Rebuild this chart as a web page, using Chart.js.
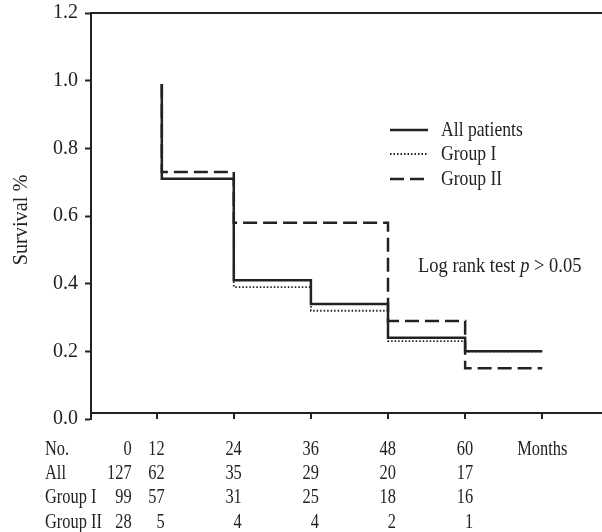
<!DOCTYPE html>
<html>
<head>
<meta charset="utf-8">
<script src="https://cdn.jsdelivr.net/npm/chart.js@4/dist/chart.umd.min.js"></script>
<style>
  html, body { margin: 0; padding: 0; background: #fff; }
  canvas { display: block; }
</style>
</head>
<body>
<canvas id="survivalChart" width="602" height="532"></canvas>
<script>
// Kaplan-Meier curves
const times = [12.8, 12.8, 24, 36, 48, 60, 72];
const allPatients = [0.99, 0.71, 0.41, 0.34, 0.24, 0.20, 0.20];
const groupI = [0.99, 0.71, 0.39, 0.32, 0.23, 0.20, 0.20];
const groupII = [0.99, 0.73, 0.58, 0.58, 0.29, 0.15, 0.15];

const seriesNames = ['All patients', 'Group I', 'Group II'];
const xTicks = [12, 24, 36, 48, 60, 72];

// numbers at risk table
const tableMonths = [0, 12, 24, 36, 48, 60];
const rowNames = ['All', 'Group I', 'Group II'];
const atRiskAll = [127, 62, 35, 29, 20, 17];
const atRiskGroupI = [99, 57, 31, 25, 18, 16];
const atRiskGroupII = [28, 5, 4, 4, 2, 1];

const INK = '#222';
const FONT = '"Liberation Serif", "Times New Roman", serif';
const SQUEEZE = 0.82;

function points(ys) {
    return times.map((t, i) => ({ x: t, y: ys[i] }));
}

// draw horizontally compressed text, like the scanned figure
function squeezed(ctx, str, x, y, size, align, sx) {
    ctx.save();
    ctx.font = size + 'px ' + FONT;
    ctx.fillStyle = INK;
    ctx.textAlign = align || 'left';
    ctx.textBaseline = 'middle';
    ctx.translate(x, y);
    ctx.scale(sx || SQUEEZE, 1);
    ctx.fillText(str, 0, 0);
    ctx.restore();
}

const extras = {
    id: 'extras',
    afterDraw(chart) {
        const ctx = chart.ctx;
        const xs = chart.scales.x;
        const ys = chart.scales.y;
        const area = chart.chartArea;
        const y0 = ys.getPixelForValue(0);
        const yTop = ys.getPixelForValue(1.2);
        const axisY = y0 - 6;

        ctx.save();
        ctx.strokeStyle = INK;
        ctx.lineWidth = 2;
        // top frame line
        ctx.beginPath();
        ctx.moveTo(area.left, yTop);
        ctx.lineTo(area.right, yTop);
        ctx.stroke();
        // x axis with ticks hanging down
        ctx.beginPath();
        ctx.moveTo(area.left, axisY);
        ctx.lineTo(area.right, axisY);
        xTicks.forEach(t => {
            const px = Math.round(xs.getPixelForValue(t));
            ctx.moveTo(px, axisY);
            ctx.lineTo(px, y0);
        });
        ctx.stroke();
        ctx.restore();

        // y axis title
        ctx.save();
        ctx.font = '22px ' + FONT;
        ctx.fillStyle = INK;
        ctx.textAlign = 'center';
        ctx.textBaseline = 'middle';
        ctx.translate(21, 220);
        ctx.rotate(-Math.PI / 2);
        ctx.scale(0.92, 1);
        ctx.fillText('Survival %', 0, 0);
        ctx.restore();

        // legend
        const legendRows = [130, 154, 179];
        chart.data.datasets.forEach((ds, i) => {
            const ly = legendRows[i];
            ctx.save();
            ctx.strokeStyle = ds.borderColor;
            ctx.lineWidth = ds.borderWidth;
            ctx.setLineDash(ds.borderDash || []);
            ctx.beginPath();
            ctx.moveTo(390, ly);
            ctx.lineTo(428, ly);
            ctx.stroke();
            ctx.restore();
            squeezed(ctx, ds.label, 441, ly, 21, 'left', 0.84);
        });

        // log rank annotation with italic p
        const parts = [['Log rank test ', ''], ['p', 'italic '], [' > 0.05', '']];
        let ax = 418;
        parts.forEach(([s, style]) => {
            ctx.save();
            ctx.font = style + '22px ' + FONT;
            ctx.fillStyle = INK;
            ctx.textBaseline = 'middle';
            const w = ctx.measureText(s).width * 0.84;
            ctx.translate(ax, 266);
            ctx.scale(0.84, 1);
            ctx.fillText(s, 0, 0);
            ctx.restore();
            ax += w;
        });

        // numbers at risk
        const rowY = [450, 474, 498, 523];
        const rows = [tableMonths, atRiskAll, atRiskGroupI, atRiskGroupII];
        const names = ['No.'].concat(rowNames);
        const colX = tableMonths.map(m => m === 0 ? xs.getPixelForValue(12) - 25 : xs.getPixelForValue(m) + 8);
        rows.forEach((row, r) => {
            squeezed(ctx, names[r], 45, rowY[r], 20, 'left');
            row.forEach((v, c) => squeezed(ctx, String(v), colX[c], rowY[r], 20, 'right'));
        });
        squeezed(ctx, 'Months', xs.getPixelForValue(72), rowY[0], 20, 'center');
    }
};

new Chart(document.getElementById('survivalChart'), {
    type: 'line',
    data: {
        datasets: [
            {
                label: seriesNames[0],
                data: points(allPatients),
                borderColor: INK,
                borderWidth: 2.5,
                stepped: true,
                pointRadius: 0
            },
            {
                label: seriesNames[1],
                data: points(groupI),
                borderColor: INK,
                borderWidth: 1.8,
                borderDash: [1.5, 2],
                stepped: true,
                pointRadius: 0
            },
            {
                label: seriesNames[2],
                data: points(groupII),
                borderColor: INK,
                borderWidth: 2.5,
                borderDash: [14, 6],
                stepped: true,
                pointRadius: 0
            }
        ]
    },
    options: {
        responsive: false,
        animation: false,
        devicePixelRatio: 1,
        layout: { padding: { left: 0, right: 0, top: 13, bottom: 113 } },
        plugins: {
            legend: { display: false },
            tooltip: { enabled: false }
        },
        scales: {
            x: {
                type: 'linear',
                min: 1.78,
                max: 81.3,
                display: false
            },
            y: {
                min: 0,
                max: 1.2,
                afterFit: scale => {
                    scale.width = 91;
                    scale.paddingTop = 0;
                    scale.paddingBottom = 0;
                },
                ticks: {
                    stepSize: 0.2,
                    padding: 7,
                    color: INK,
                    font: { family: FONT, size: 20 },
                    callback: v => v.toFixed(1)
                },
                grid: {
                    drawOnChartArea: false,
                    tickLength: 6,
                    tickWidth: 2,
                    tickColor: INK
                },
                border: { color: INK, width: 2 }
            }
        }
    },
    plugins: [extras]
});
</script>
</body>
</html>
